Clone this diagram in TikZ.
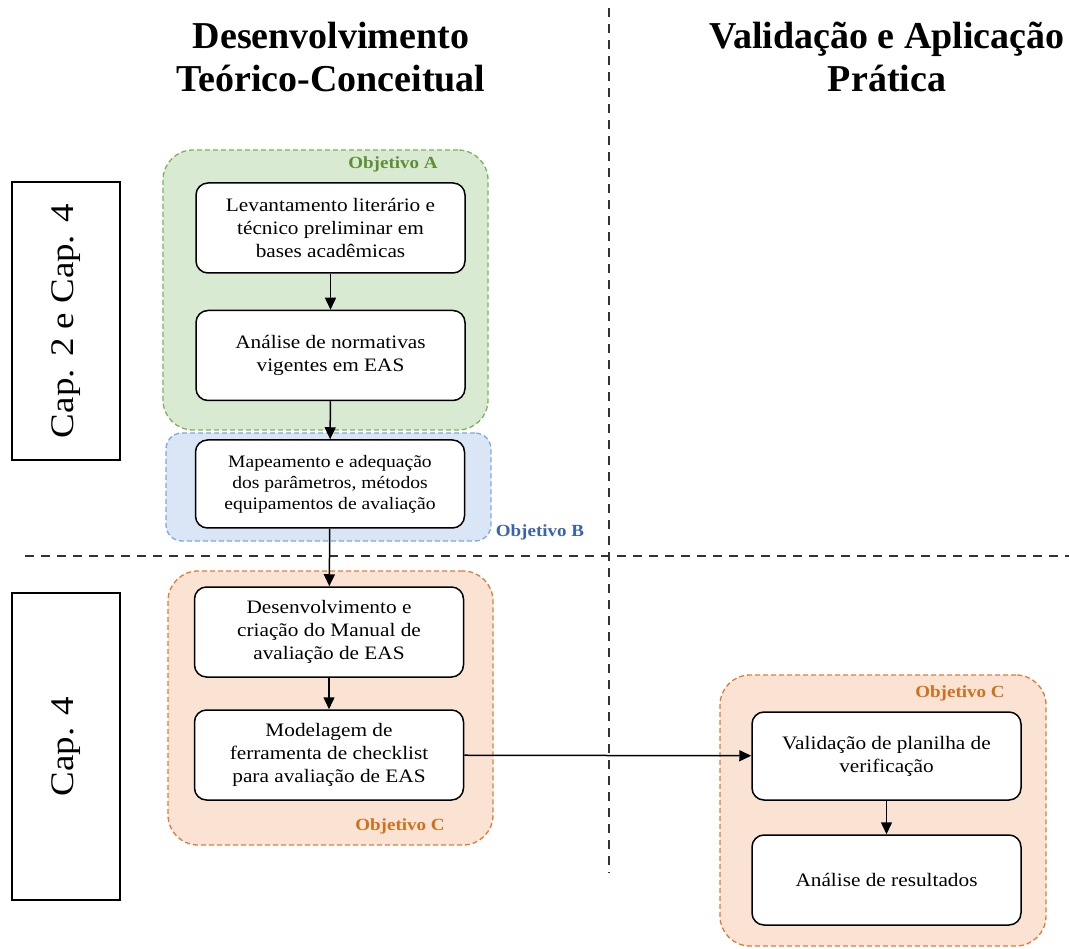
\documentclass[tikz,border=0pt]{standalone}
\usepackage{fontspec}
\setmainfont[FakeStretch=1.12]{Liberation Serif}
\newfontfamily\headfont{Liberation Serif}
\usetikzlibrary{arrows.meta}
\definecolor{verdeFundo}{HTML}{D9EAD3}
\definecolor{verdeBorda}{HTML}{7DB356}
\definecolor{verdeTexto}{HTML}{5E8F32}
\definecolor{azulFundo}{HTML}{DAE6F5}
\definecolor{azulBorda}{HTML}{7EA6E0}
\definecolor{azulTexto}{HTML}{3A63AE}
\definecolor{laranjaFundo}{HTML}{FBE3D4}
\definecolor{laranjaBorda}{HTML}{E07B39}
\definecolor{laranjaTexto}{HTML}{D0701E}

\begin{document}
\begin{tikzpicture}[x=1pt,y=-1pt,
    etapa/.style={draw, line width=1.5pt, rounded corners=12pt, fill=white,
        minimum width=269pt, minimum height=90pt, align=center,
        font=\fontsize{19}{23}\selectfont},
    grupo/.style={draw, line width=1.3pt, dash pattern=on 5pt off 3pt,
        rounded corners=30pt, inner sep=0pt},
    objetivo/.style={font=\fontsize{17}{20}\selectfont\bfseries},
    capitulo/.style={draw, line width=1.5pt, minimum height=108pt,
        rotate=90, font=\fontsize{33}{36}\selectfont},
    titulo/.style={align=center, font=\headfont\bfseries\fontsize{38}{43}\selectfont},
    divisa/.style={line width=1.5pt, gray!40!black, dash pattern=on 9pt off 7pt},
    seta/.style={-{Triangle[width=11pt,length=12pt]}, line width=1.5pt}]

    \useasboundingbox (0,0) rectangle (1069,949);

    % titulos
    \node[titulo] at (331,57) (tituloT) {Desenvolvimento\\Teórico-Conceitual};
    \node[titulo] at (887,57) (tituloP) {Validação e Aplicação\\Prática};

    % divisorias
    \coordinate (vTopo) at (609,8);
    \coordinate (vBase) at (609,873);
    \coordinate (hEsq) at (25,556);
    \coordinate (hDir) at (1069,556);
    \draw[divisa] (vTopo) -- (vBase);
    \draw[divisa] (hEsq) -- (hDir);

    % capitulos
    \node[capitulo, minimum width=278pt] at (66,321) (cap1) {Cap. 2 e Cap. 4};
    \node[capitulo, minimum width=307pt] at (66,746.5) (cap2) {Cap. 4};

    % grupos de objetivos
    \node[grupo, draw=verdeBorda, fill=verdeFundo, minimum width=325pt,
        minimum height=280pt] at (325.5,290) (grupoA) {};
    \node[grupo, draw=azulBorda, fill=azulFundo, minimum width=325pt,
        minimum height=108pt, rounded corners=16pt] at (328.5,487) (grupoB) {};
    \node[grupo, draw=laranjaBorda, fill=laranjaFundo, minimum width=325pt,
        minimum height=274pt] at (330.5,708) (grupoC) {};
    \node[grupo, draw=laranjaBorda, fill=laranjaFundo, minimum width=326pt,
        minimum height=271pt] at (883,810.5) (grupoD) {};

    \node[objetivo, verdeTexto] at (393,164) (objA) {Objetivo A};
    \node[objetivo, azulTexto] at (540,532) (objB) {Objetivo B};
    \node[objetivo, laranjaTexto] at (400,826) (objC) {Objetivo C};
    \node[objetivo, laranjaTexto] at (960,693) (objD) {Objetivo C};

    % etapas
    \node[etapa] at (330.5,228) (lev) {Levantamento literário e\\técnico preliminar em\\bases acadêmicas};
    \node[etapa] at (330.5,355.5) (ana) {Análise de normativas\\vigentes em EAS};
    \node[etapa, minimum height=88pt, font=\fontsize{17.5}{21}\selectfont]
        at (330,484) (map) {Mapeamento e adequação\\dos parâmetros, métodos\\equipamentos de avaliação};
    \node[etapa] at (329,632) (des) {Desenvolvimento e\\criação do Manual de\\avaliação de EAS};
    \node[etapa] at (329,755) (mod) {Modelagem de\\ferramenta de checklist\\para avaliação de EAS};
    \node[etapa, minimum height=88pt] at (886.5,756) (val) {Validação de planilha de\\verificação};
    \node[etapa] at (886.5,880) (res) {Análise de resultados};

    % fluxo
    \draw[seta] (lev) -- (ana);
    \draw[seta] (ana) -- (map);
    \draw[seta] (map) -- (des);
    \draw[seta] (des) -- (mod);
    \draw[seta] (mod) -- (val);
    \draw[seta] (val) -- (res);
\end{tikzpicture}
\end{document}
